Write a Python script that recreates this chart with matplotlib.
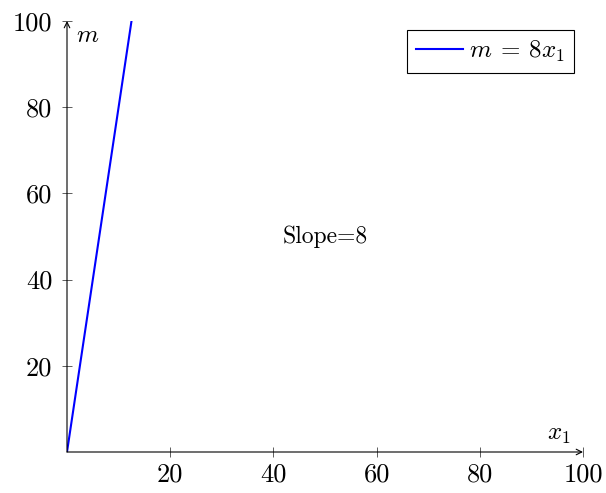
import numpy as np
import matplotlib
matplotlib.use("Agg")
import matplotlib.pyplot as plt

plt.rcParams["font.family"] = ["cmr10", "DejaVu Serif"]
plt.rcParams["mathtext.fontset"] = "cm"
plt.rcParams["axes.formatter.use_mathtext"] = True

# data
slope = 8
x_line = [0, 12.5]
m_line = [slope * v for v in x_line]
x_ticks = [20, 40, 60, 80, 100]
y_ticks = [20, 40, 60, 80, 100]
legend_label = r"$m\:=\:8x_1$"
note_text = "Slope=8"

fig = plt.figure(figsize=(6.06, 4.93), dpi=100)
ax = fig.add_axes([67 / 606, 41 / 493, 516 / 606, 431 / 493])

ax.plot(x_line, m_line, color="#0000ff", lw=1.5, label=legend_label)
ax.set_xlim(0, 100)
ax.set_ylim(0, 100)

for s in ax.spines.values():
    s.set_visible(False)

# axis lines with arrow heads
arrow = dict(arrowstyle="->", lw=0.8, color="black", shrinkA=0, shrinkB=0,
             mutation_scale=10)
ax.annotate("", xy=(1, 0), xytext=(0, 0), xycoords="axes fraction",
            textcoords="axes fraction", arrowprops=arrow)
ax.annotate("", xy=(0, 1), xytext=(0, 0), xycoords="axes fraction",
            textcoords="axes fraction", arrowprops=arrow)

ax.set_xticks(x_ticks)
ax.set_yticks(y_ticks)
ax.set_xticklabels([str(t) for t in x_ticks])
ax.set_yticklabels([str(t) for t in y_ticks])
ax.tick_params(direction="inout", length=7, width=0.6, labelsize=19,
               color="#444444")
ax.tick_params(axis="y", pad=7)
ax.tick_params(axis="x", pad=4)

ax.text(0.975, 0.015, r"$x_1$", transform=ax.transAxes, ha="right", va="bottom",
        fontsize=18)
ax.text(0.018, 0.99, r"$m$", transform=ax.transAxes, ha="left", va="top",
        fontsize=18)

ax.text(50, 50, note_text, ha="center", va="center", fontsize=17)

leg = ax.legend(loc="upper right", fontsize=18, frameon=True, fancybox=False,
                edgecolor="black", framealpha=1, handlelength=1.9,
                handletextpad=0.25, borderpad=0.35, borderaxespad=0.36)
leg.get_frame().set_linewidth(0.8)

fig.savefig("out.png", dpi=100)
